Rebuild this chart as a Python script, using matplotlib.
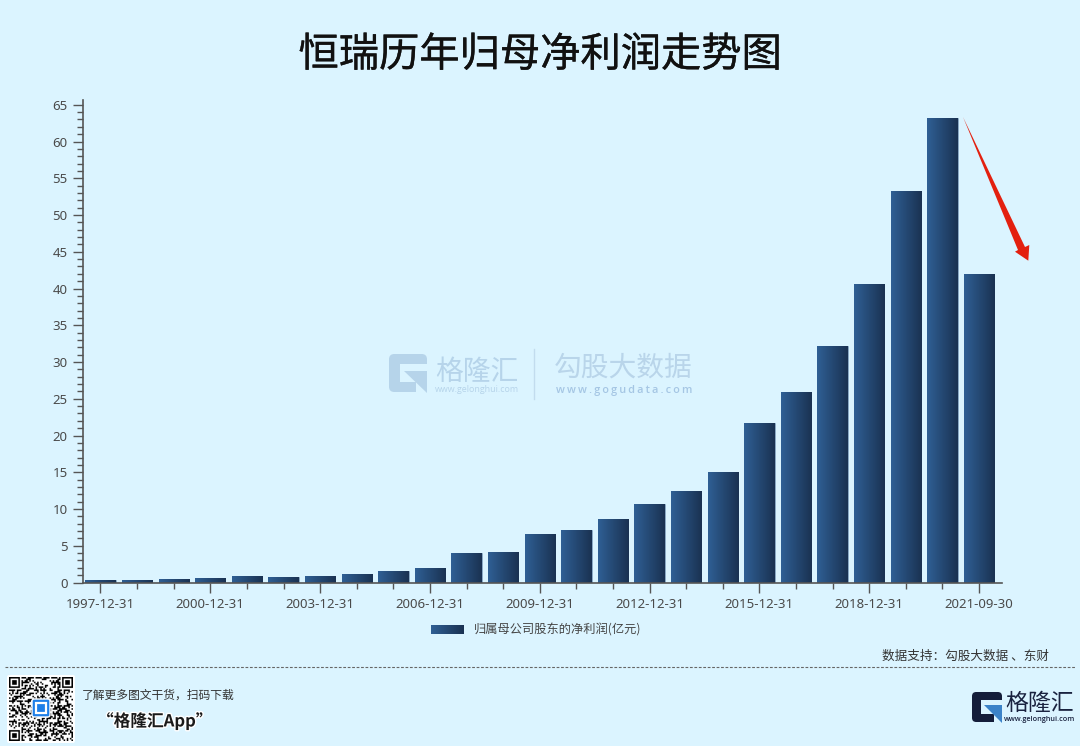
import numpy as np
import matplotlib
matplotlib.use("Agg")
import matplotlib.pyplot as plt
import matplotlib.patheffects as pe
from matplotlib.colors import LinearSegmentedColormap
from matplotlib.patches import FancyBboxPatch, Polygon, Rectangle
from matplotlib.ticker import MultipleLocator, FixedLocator, NullFormatter

plt.rcParams['font.family'] = ['Noto Sans CJK SC', 'DejaVu Sans']

# ======= Data =======
dates = ["1997-12-31", "1998-12-31", "1999-12-31", "2000-12-31", "2001-12-31",
         "2002-12-31", "2003-12-31", "2004-12-31", "2005-12-31", "2006-12-31",
         "2007-12-31", "2008-12-31", "2009-12-31", "2010-12-31", "2011-12-31",
         "2012-12-31", "2013-12-31", "2014-12-31", "2015-12-31", "2016-12-31",
         "2017-12-31", "2018-12-31", "2019-12-31", "2020-12-31", "2021-09-30"]
profit = [0.35, 0.38, 0.45, 0.6, 0.85, 0.7, 0.9, 1.15, 1.55, 2.0, 4.0, 4.1, 6.6,
          7.1, 8.7, 10.7, 12.4, 15.1, 21.7, 25.9, 32.2, 40.6, 53.3, 63.2, 42.0]
title = "恒瑞历年归母净利润走势图"
series_name = "归属母公司股东的净利润(亿元)"
source = "数据支持：勾股大数据 、东财"

BG = "#dbf4ff"
AXIS = "#555555"
W, H = 1080, 746
bar_cmap = LinearSegmentedColormap.from_list("bar", ["#2f5f94", "#1a3252"])
grad = np.linspace(0, 1, 64).reshape(1, -1)

fig = plt.figure(figsize=(W / 100, H / 100), dpi=100, facecolor=BG)

# chart axes
ax = fig.add_axes([83 / W, 1 - 582.5 / H, (1002 - 83) / W, (582.5 - 100) / H], facecolor="none")
x = np.arange(len(dates))
bars = ax.bar(x, profit, width=0.83, color="#24466f", edgecolor="#8fb0cc", linewidth=0.5, zorder=2)
for b in bars:
    im = ax.imshow(grad, cmap=bar_cmap, aspect="auto", zorder=3,
                   extent=[b.get_x(), b.get_x() + b.get_width(), 0, b.get_height()])
    im.set_clip_path(b)
ax.set_xlim(-0.478, 24.63)
ax.set_ylim(0, 65.65)

for s in ["top", "right"]:
    ax.spines[s].set_visible(False)
for s in ["left", "bottom"]:
    ax.spines[s].set_color(AXIS)
    ax.spines[s].set_linewidth(1.2)
    ax.spines[s].set_zorder(5)

ax.yaxis.set_major_locator(MultipleLocator(5))
ax.yaxis.set_minor_locator(MultipleLocator(1))
ax.xaxis.set_major_locator(FixedLocator(x[::3]))
ax.xaxis.set_minor_locator(FixedLocator(x))
ax.xaxis.set_minor_formatter(NullFormatter())
ax.set_xticklabels(dates[::3])
ax.tick_params(axis="y", which="major", length=7, width=1, color=AXIS,
               labelcolor="#4a4a4a", labelsize=9.5, pad=4)
ax.tick_params(axis="x", which="major", length=7, width=1, color=AXIS,
               labelcolor="#4a4a4a", labelsize=9.5, pad=4)
ax.tick_params(axis="both", which="minor", length=4, width=1, color=AXIS)
for lab in ax.get_xticklabels() + ax.get_yticklabels():
    lab.set_family(["Noto Sans", "DejaVu Sans"])

# overlay in pixel coordinates for everything around the chart
ov = fig.add_axes([0, 0, 1, 1], facecolor="none")
ov.axis("off")


def draw_logo(x0, y0, size, dark, blue, bg):
    def pts(coords):
        return [(x0 + a * size, y0 + c * size) for a, c in coords]
    ov.add_patch(FancyBboxPatch((x0 + 0.1 * size, y0 + 0.1 * size), 0.8 * size, 0.8 * size,
                                boxstyle=f"round,pad={0.1 * size},rounding_size={0.14 * size}",
                                fc=dark, ec="none"))
    ov.add_patch(Polygon(pts([(.3, .27), (1.02, .27), (1.02, 1.02), (.72, 1.02), (.72, .74), (.3, .74)]),
                         fc=bg, ec="none"))
    ov.add_patch(Polygon(pts([(.39, .44), (1, .44), (1, 1.03)]), fc=blue, ec="none"))


# title
ov.text(540, 55, title, ha="center", va="center", fontsize=29, color="#111111",
        path_effects=[pe.withStroke(linewidth=0.25, foreground="#111111")])

# watermark
WM = "#b6d4ea"
draw_logo(389, 354, 38, WM, WM, BG)
ov.text(476.5, 371.5, "格隆汇", ha="center", va="center", fontsize=20, color=WM)
ov.text(476.5, 389.5, "www.gelonghui.com", ha="center", va="center", fontsize=6.4, color=WM,
        family=["Open Sans", "DejaVu Sans"])
ov.plot([534, 534], [349, 399], color="#c2dcee", lw=1)
ov.text(623.5, 368, "勾股大数据", ha="center", va="center", fontsize=20, color="#b9d5ea")
ov.text(624, 390, "\u2009".join("www.gogudata.com"), ha="center", va="center", fontsize=7.8, color="#a5c6e4",
        family=["Open Sans", "DejaVu Sans"], fontweight="semibold")
ax.set_zorder(ov.get_zorder() + 1)

# arrow
ov.add_patch(Polygon([(963, 117), (1025, 247), (1029.3, 245), (1028.3, 260.7), (1015, 251.7), (1018, 250)],
                     fc="#e3200f", ec="none", zorder=6))

# legend
ov.imshow(grad, cmap=bar_cmap, aspect="auto", extent=[431, 464, 634, 625], zorder=2)
ov.text(474, 630, series_name, ha="left", va="center", fontsize=8.8, color="#444444")

# source and divider
ov.text(1049, 656, source, ha="right", va="center", fontsize=9.1, color="#333333")
ov.plot([5, 1075], [667, 667], color="#666666", lw=0.8, dashes=(2.5, 1.5))

# QR code block
ov.add_patch(FancyBboxPatch((7, 675), 68, 68, boxstyle="round,pad=0,rounding_size=2", fc="white", ec="none"))
n = 41
qr = np.array([[(i * i * 3 + j * j * 7 + i * j + (i ^ j)) % 5 < 2 for j in range(n)] for i in range(n)])
for cx, cy in [(0, 0), (n - 7, 0), (0, n - 7)]:
    qr[max(cy - 1, 0):cy + 8, max(cx - 1, 0):cx + 8] = False
    qr[cy:cy + 7, cx:cx + 7] = True
    qr[cy + 1:cy + 6, cx + 1:cx + 6] = False
    qr[cy + 2:cy + 5, cx + 2:cx + 5] = True
ov.imshow(~qr, cmap="gray", vmin=0, vmax=1, interpolation="antialiased", extent=[9, 73, 741, 677], zorder=3)
ov.add_patch(FancyBboxPatch((32, 699), 18, 18, boxstyle="round,pad=0,rounding_size=2", fc="#1f7fe8",
                            ec="white", lw=1, zorder=4))
ov.add_patch(Rectangle((36, 703), 10, 10, fc="none", ec="white", lw=1.6, zorder=5))

# footer text
ov.text(82, 695, "了解更多图文干货，扫码下载", ha="left", va="center", fontsize=8.5, color="#333333")
ov.text(97, 721, "“格隆汇App”", ha="left", va="center", fontsize=12, color="#1a1a1a", fontweight="bold",
        path_effects=[pe.withStroke(linewidth=2, foreground="white")])

# logo, bottom right
draw_logo(972, 692, 30, "#141d3a", "#3c83c8", BG)
ov.text(1040, 703.5, "格隆汇", ha="center", va="center", fontsize=16.5, color="#1a2340")
ov.text(1040, 719.5, "www.gelonghui.com", ha="center", va="center", fontsize=5.2, color="#1a2340",
        family=["Open Sans", "DejaVu Sans"], fontweight="semibold")

# imshow resets limits, so fix the pixel frame last
ov.set_xlim(0, W)
ov.set_ylim(H, 0)
ov.set_aspect("auto")

fig.savefig("out.png", dpi=100, facecolor=BG)
